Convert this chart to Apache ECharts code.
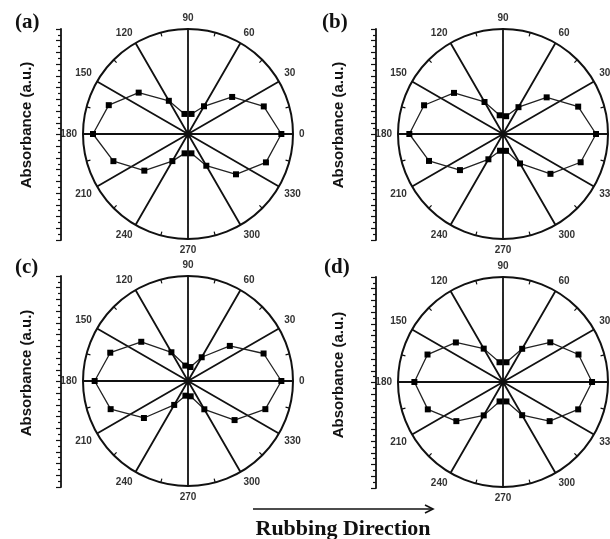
<!DOCTYPE html>
<html>
<head>
<meta charset="utf-8">
<script src="https://cdn.jsdelivr.net/npm/echarts@6/dist/echarts.min.js"></script>
<style>
  html, body { margin: 0; padding: 0; background: #fff; }
  #chart { width: 610px; height: 539px; }
</style>
</head>
<body>
<div id="chart"></div>
<script>
// Polarized absorbance vs. polarizer angle (deg), four samples
const angles = [0, 20, 40, 60, 80, 100, 120, 140, 160, 180, 200, 220, 240, 260, 280, 300, 320, 340];
const absA = [0.889, 0.768, 0.549, 0.305, 0.194, 0.194, 0.365, 0.613, 0.803, 0.905, 0.756, 0.543, 0.298, 0.187, 0.187, 0.349, 0.597, 0.790];
const absB = [0.886, 0.762, 0.543, 0.295, 0.172, 0.181, 0.352, 0.609, 0.800, 0.892, 0.750, 0.535, 0.278, 0.162, 0.163, 0.324, 0.590, 0.787];
const absC = [0.889, 0.766, 0.520, 0.261, 0.135, 0.149, 0.316, 0.581, 0.788, 0.889, 0.784, 0.548, 0.263, 0.142, 0.148, 0.311, 0.579, 0.784];
const absD = [0.848, 0.765, 0.588, 0.365, 0.191, 0.191, 0.367, 0.586, 0.765, 0.844, 0.762, 0.580, 0.367, 0.188, 0.188, 0.365, 0.580, 0.762];
const angleLabels = ['0', '30', '60', '90', '120', '150', '180', '210', '240', '270', '300', '330'];
const panelNames = ['(a)', '(b)', '(c)', '(d)'];
const yTitle = 'Absorbance (a.u.)';
const caption = 'Rubbing Direction';

const seriesData = [absA, absB, absC, absD];

// layout of the four panels
const panels = [
  { cx: 188, cy: 134, axisX: 61, top: 29, label: [15, 12], title: [27, 125] },
  { cx: 503, cy: 134, axisX: 376, top: 29, label: [322, 12], title: [339, 125] },
  { cx: 188, cy: 381, axisX: 61, top: 276, label: [15, 257], title: [27, 373] },
  { cx: 503, cy: 382, axisX: 376, top: 277, label: [324, 257], title: [339, 375] }
];
const R = 105;
const ink = '#111';

const polar = [], angleAxis = [], radiusAxis = [], series = [];
const grid = [], xAxis = [], yAxis = [], graphic = [];

panels.forEach((p, i) => {
  polar.push({ center: [p.cx, p.cy], radius: R });
  angleAxis.push({
    polarIndex: i,
    type: 'value',
    min: 0, max: 360, interval: 30,
    startAngle: 0, clockwise: false,
    axisLine: { lineStyle: { color: ink, width: 2 } },
    axisTick: { show: false, inside: true },
    minorTick: { show: true, splitNumber: 2, length: 4, lineStyle: { color: ink, width: 1.2 } },
    splitLine: { show: true, lineStyle: { color: ink, width: 1.8 } },
    axisLabel: {
      margin: 6,
      color: '#333',
      fontFamily: 'Liberation Sans, Arial, sans-serif',
      fontWeight: 'bold',
      fontSize: 10,
      formatter: v => (v >= 360 ? '' : angleLabels[Math.round(v / 30)])
    }
  });
  radiusAxis.push({ polarIndex: i, type: 'value', min: 0, max: 1, show: false,
    axisLine: { show: false }, axisTick: { show: false }, axisLabel: { show: false }, splitLine: { show: false } });

  const vals = seriesData[i];
  const pts = angles.map((a, k) => [vals[k], a]);
  pts.push([vals[0], 360]); // close the loop
  const data = pts.map((v, k) => (k === pts.length - 1 ? { value: v, symbol: 'none' } : v));
  series.push({
    type: 'line',
    coordinateSystem: 'polar',
    polarIndex: i,
    data,
    symbol: 'rect',
    symbolSize: 6,
    showAllSymbol: true,
    itemStyle: { color: '#000' },
    lineStyle: { color: '#222', width: 1.3 },
    animation: false,
    z: 5
  });

  // separate vertical intensity axis to the left of each polar plot
  grid.push({ left: p.axisX, top: p.top, width: 1, height: 2 * R + 1 });
  xAxis.push({ gridIndex: i, type: 'value', show: false });
  yAxis.push({
    gridIndex: i,
    type: 'value',
    min: 0, max: 18, interval: 1,
    axisLine: { show: true, lineStyle: { color: ink, width: 1.8 } },
    axisTick: { show: true, length: 5, lineStyle: { color: ink, width: 1.2 } },
    minorTick: { show: true, splitNumber: 2, length: 3, lineStyle: { color: ink, width: 1.2 } },
    axisLabel: { show: false },
    splitLine: { show: false }
  });

  graphic.push({
    type: 'text', left: p.label[0], top: p.label[1],
    style: { text: panelNames[i], fill: '#111', font: 'bold 21px "Liberation Serif", "Times New Roman", serif' }
  });
  graphic.push({
    type: 'text', x: p.title[0], y: p.title[1], rotation: Math.PI / 2,
    style: { text: yTitle, fill: '#111', align: 'center', verticalAlign: 'middle',
      font: 'bold 15px "Liberation Sans", Arial, sans-serif' }
  });
});

// rubbing direction arrow and caption
graphic.push({ type: 'line', shape: { x1: 253, y1: 509, x2: 432, y2: 509 }, style: { stroke: '#111', lineWidth: 1.6 } });
graphic.push({ type: 'polyline', shape: { points: [[425, 505], [433, 509], [425, 513]] }, style: { stroke: '#111', lineWidth: 1.6, fill: null } });
graphic.push({
  type: 'text', x: 343, y: 529,
  style: { text: caption, fill: '#111', align: 'center', verticalAlign: 'middle',
    font: 'bold 22px "Liberation Serif", "Times New Roman", serif' }
});

const chart = echarts.init(document.getElementById('chart'), null, { renderer: 'canvas' });
chart.setOption({
  backgroundColor: '#fff',
  animation: false,
  polar, angleAxis, radiusAxis, grid, xAxis, yAxis, series, graphic
});
</script>
</body>
</html>
